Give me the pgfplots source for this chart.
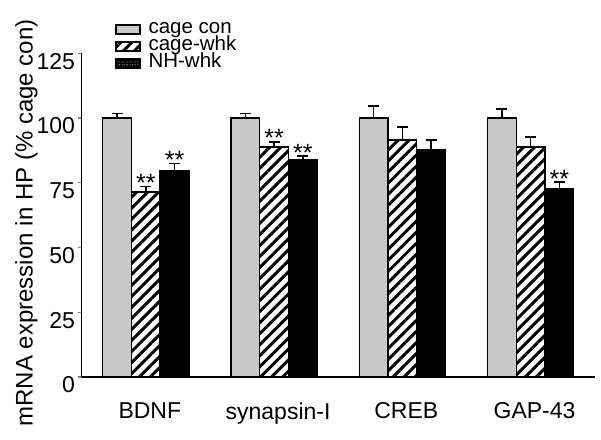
\documentclass[border=0pt]{standalone}
\usepackage{pgfplots}
\pgfplotsset{compat=1.18}
\usepackage{pgfplotstable}
\usepackage{fontspec}
\setmainfont{Liberation Sans}
\usetikzlibrary{patterns.meta}
\definecolor{bargray}{RGB}{200,200,200}

% x = group index -0.224 / 0 / +0.224 (groups: BDNF, synapsin-I, CREB, GAP-43)
\pgfplotstableread{
x y e
-0.224 100 1.8
0.776 100 1.8
1.776 100 4.6
2.776 100 3.5
}\cagecon
\pgfplotstableread{
x y e
0 71.5 2.0
1 88.8 2.0
2 91.5 5.0
3 88.8 3.9
}\cagewhk
\pgfplotstableread{
x y e
0.224 79.5 3.0
1.224 83.8 1.5
2.224 87.6 3.9
3.224 72.6 2.7
}\nhwhk
\pgfplotstableread{
x y lab
0 73.5 **
0.224 82.5 **
1 90.8 **
1.224 85.3 **
3.224 75.3 **
}\stars

\pgfplotsset{
  boxlegend/.style={legend image code/.code={\draw[##1, line width=1.4pt] (0pt,-4.5pt) rectangle (24pt,4.5pt);}},
  dotlegend/.style={legend image code/.code={\draw[fill=black, draw=black, line width=1.4pt] (0pt,-4.5pt) rectangle (24pt,4.5pt);
     \fill[pattern={Dots[distance=2.6pt,radius=0.55pt]}, pattern color=white!65!black] (0.7pt,-3.8pt) rectangle (23.3pt,3.8pt);}},
}

\begin{document}
\begin{tikzpicture}
\useasboundingbox (-81.7pt,-62pt) rectangle (519.3pt,377pt);
\begin{axis}[
  scale only axis,
  width=513pt, height=323.7pt,
  xmin=-0.5, xmax=3.5,
  ymin=0, ymax=125,
  axis x line*=bottom, axis y line*=left,
  axis line style={-, line width=1.4pt},
  ytick={0,25,50,75,100,125},
  tick align=outside,
  major tick length=4pt,
  ytick style={line width=1.4pt},
  xtick={0,1,2,3},
  xticklabels={BDNF, synapsin-I, CREB, GAP-43},
  xtick style={draw=none},
  /pgf/number format/assume math mode=true,
  tick label style={font=\fontsize{23}{23}\selectfont},
  yticklabel style={anchor=north east, inner sep=0pt, xshift=-2.5pt, yshift=0.5pt},
  xticklabel style={anchor=north, yshift=-18pt, xshift=4pt},
  ylabel={mRNA expression in HP (\% cage con)},
  ylabel style={at={(axis description cs:-0.108,0.476)}, anchor=center, font=\fontsize{24}{24}\selectfont},
  legend style={at={(axis description cs:0.059,1.106)}, anchor=north west, draw=none,
    font=\fontsize{20.5}{20.5}\selectfont, cells={anchor=west},
    nodes={inner sep=1pt, text height=11.5pt, text depth=3.5pt}, row sep=0pt, column sep=7pt},
  error bars/error bar style={draw=black, line width=1.4pt},
  error bars/error mark options={rotate=90, mark size=5.5pt, line width=1.4pt, draw=black},
  clip=false,
]
\addplot[ybar, bar width=0.224, bar shift=0pt, fill=bargray, draw=black, line width=1.4pt, boxlegend,
  error bars/.cd, y dir=plus, y explicit]
  table[x=x, y=y, y error=e] {\cagecon};
\addlegendentry{cage con}
\addplot[ybar, bar width=0.224, bar shift=0pt, draw=black, line width=1.4pt,
  pattern={Lines[angle=45,distance=7.8pt,line width=3pt]}, pattern color=black, boxlegend,
  error bars/.cd, y dir=plus, y explicit]
  table[x=x, y=y, y error=e] {\cagewhk};
\addlegendentry{cage-whk}
\addplot[ybar, bar width=0.224, bar shift=0pt, fill=black, draw=black, line width=1.4pt, dotlegend,
  error bars/.cd, y dir=plus, y explicit]
  table[x=x, y=y, y error=e] {\nhwhk};
\addlegendentry{NH-whk}
\addplot[draw=none, mark=none, forget plot, nodes near coords, point meta=explicit symbolic,
  nodes near coords style={anchor=base, yshift=-5pt, font=\fontsize{25}{25}\selectfont, inner sep=0pt}]
  table[x=x, y=y, meta=lab] {\stars};
\end{axis}
\end{tikzpicture}
\end{document}
